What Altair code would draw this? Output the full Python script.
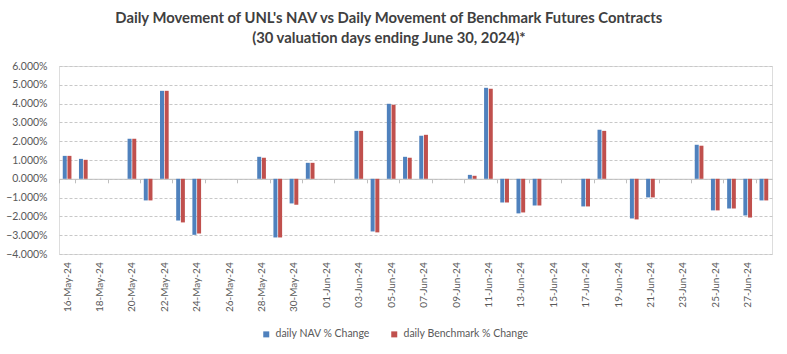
import altair as alt
import pandas as pd

# ---- data -------------------------------------------------------------
all_days = [d.strftime("%d-%b-%y") for d in pd.date_range("2024-05-16", "2024-06-28")]
label_days = all_days[::2]

trade_days = [
    "16-May-24", "17-May-24", "20-May-24", "21-May-24", "22-May-24", "23-May-24", "24-May-24",
    "28-May-24", "29-May-24", "30-May-24", "31-May-24",
    "03-Jun-24", "04-Jun-24", "05-Jun-24", "06-Jun-24", "07-Jun-24",
    "10-Jun-24", "11-Jun-24", "12-Jun-24", "13-Jun-24", "14-Jun-24",
    "17-Jun-24", "18-Jun-24", "20-Jun-24", "21-Jun-24",
    "24-Jun-24", "25-Jun-24", "26-Jun-24", "27-Jun-24", "28-Jun-24",
]
nav_change = [1.22, 1.06, 2.13, -1.15, 4.68, -2.22, -2.98,
              1.17, -3.12, -1.31, 0.85,
              2.55, -2.80, 3.99, 1.17, 2.29,
              0.21, 4.84, -1.26, -1.84, -1.42,
              -1.47, 2.61, -2.11, -0.99,
              1.81, -1.68, -1.58, -1.95, -1.15]
bench_change = [1.22, 1.01, 2.13, -1.15, 4.68, -2.32, -2.91,
                1.12, -3.12, -1.38, 0.85,
                2.55, -2.85, 3.94, 1.12, 2.34,
                0.16, 4.79, -1.26, -1.79, -1.42,
                -1.47, 2.55, -2.16, -0.99,
                1.76, -1.68, -1.58, -2.06, -1.15]
series_names = ["daily NAV % Change", "daily Benchmark % Change"]
series_colors = ["#4F81BD", "#C0504D"]
y_ticks = [-4, -3, -2, -1, 0, 1, 2, 3, 4, 5, 6]

rows = []
for d, a, b in zip(trade_days, nav_change, bench_change):
    rows.append({"date": d, "series": series_names[0], "value": a})
    rows.append({"date": d, "series": series_names[1], "value": b})
df = pd.DataFrame(rows)

FONT = "Lato"
GREY = "#595959"

chart = alt.Chart(df).mark_bar().encode(
    x=alt.X("date:N", sort=all_days,
            scale=alt.Scale(domain=all_days, paddingInner=0, paddingOuter=0),
            axis=alt.Axis(values=label_days, title=None, labelAngle=270,
                          labelAlign="right", labelBaseline="middle",
                          offset=-75.2, labelPadding=79, tickBand="extent",
                          tickSize=4, tickColor="#bfbfbf", domainColor="#bfbfbf",
                          labelFont=FONT, labelFontSize=10, labelColor=GREY,
                          labelOverlap=False)),
    xOffset=alt.XOffset("series:N", sort=series_names,
                        scale=alt.Scale(domain=series_names, paddingInner=0.15, paddingOuter=0.8)),
    y=alt.Y("value:Q",
            scale=alt.Scale(domain=[-4, 6], nice=False, zero=False),
            axis=alt.Axis(values=y_ticks, title=None, ticks=False, domain=False,
                          labelExpr="format(datum.value / 100, '.3%')",
                          labelPadding=12, labelFont=FONT, labelFontSize=10.5,
                          labelColor=GREY, gridColor="#c8c8c8", gridDash=[3, 2])),
    color=alt.Color("series:N", sort=series_names,
                    scale=alt.Scale(domain=series_names, range=series_colors),
                    legend=alt.Legend(title=None, orient="none", direction="horizontal",
                                      legendX=202, legendY=263, symbolType="square",
                                      symbolSize=36, symbolStrokeWidth=0, columnPadding=18,
                                      labelOffset=4,
                                      labelFont=FONT, labelFontSize=10.5, labelColor=GREY)),
).properties(
    width=713,
    height=188,
    padding={"left": 59, "top": 66, "right": 15, "bottom": 100},
    autosize=alt.AutoSizeParams(type="none"),
    title=alt.TitleParams(
        text=["Daily Movement of UNL's NAV vs Daily Movement of Benchmark Futures Contracts",
              "(30 valuation days ending June 30, 2024)*"],
        anchor="middle", frame="bounds", font=FONT, fontSize=14.8, fontWeight="bold",
        color="#404040", offset=15, lineHeight=20),
).configure_view(stroke=None).configure(background="white")

chart.save("out.html", embed_options={"renderer": "svg", "actions": False})
